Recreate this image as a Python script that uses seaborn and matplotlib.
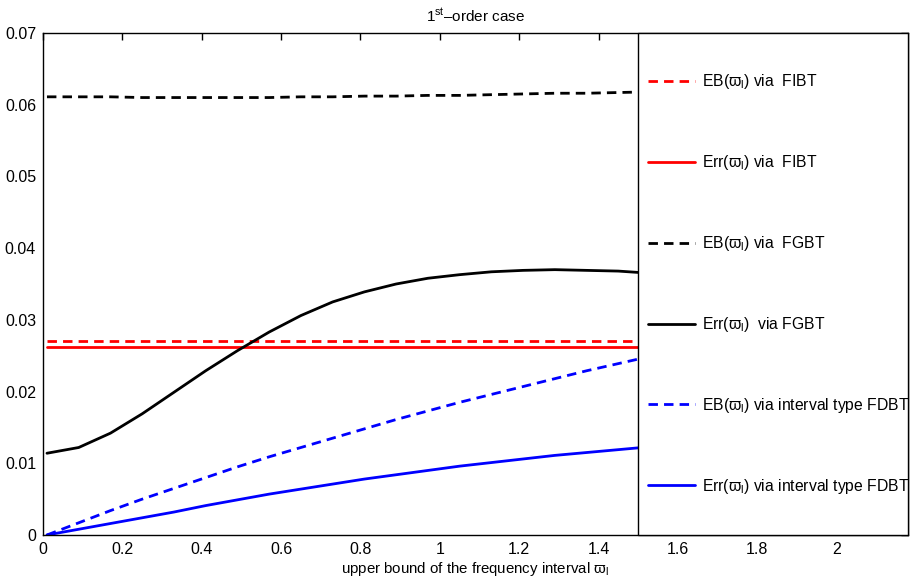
import numpy as np
import pandas as pd
import matplotlib
matplotlib.use("Agg")
import matplotlib.pyplot as plt
import seaborn as sns
from matplotlib.patches import Rectangle

sns.set_theme(style="white")
plt.rcParams["font.family"] = ["Liberation Sans", "DejaVu Sans"]
plt.rcParams["mathtext.fontset"] = "custom"
plt.rcParams["mathtext.rm"] = "Liberation Sans"
plt.rcParams["mathtext.it"] = "Liberation Sans"
plt.rcParams["text.color"] = "black"
plt.rcParams["axes.labelcolor"] = "black"

# upper bound of frequency interval
w = [0.01, 0.09, 0.17, 0.25, 0.33, 0.41, 0.49, 0.57, 0.65, 0.73,
     0.81, 0.89, 0.97, 1.05, 1.13, 1.21, 1.29, 1.37, 1.45, 1.53]

eb_fibt = [0.0271] * 20
err_fibt = [0.0262] * 20
eb_fgbt = [0.0611, 0.0611, 0.0611, 0.0610, 0.0610, 0.0610, 0.0610, 0.0610, 0.0611, 0.0611,
           0.0612, 0.0612, 0.0613, 0.0613, 0.0614, 0.0615, 0.0616, 0.0616, 0.0617, 0.0618]
err_fgbt = [0.0114, 0.0122, 0.0142, 0.0169, 0.0199, 0.0229, 0.0257, 0.0283, 0.0306, 0.0325,
            0.0339, 0.0350, 0.0358, 0.0363, 0.0367, 0.0369, 0.0370, 0.0369, 0.0368, 0.0365]
eb_fdbt = [0.0, 0.0017, 0.0034, 0.0050, 0.0065, 0.0080, 0.0095, 0.0109, 0.0122, 0.0135,
           0.0148, 0.0161, 0.0173, 0.0185, 0.0196, 0.0207, 0.0218, 0.0229, 0.0239, 0.0249]
err_fdbt = [0.0, 0.0008, 0.0016, 0.0024, 0.0032, 0.0041, 0.0049, 0.0057, 0.0064, 0.0071,
            0.0078, 0.0084, 0.0090, 0.0096, 0.0101, 0.0106, 0.0111, 0.0115, 0.0119, 0.0123]

V = r"$\varpi_\mathrm{l}$"
series = [
    (eb_fibt, "EB(" + V + ") via  FIBT", "red", True),
    (err_fibt, "Err(" + V + ") via  FIBT", "red", False),
    (eb_fgbt, "EB(" + V + ") via  FGBT", "black", True),
    (err_fgbt, "Err(" + V + ")  via FGBT", "black", False),
    (eb_fdbt, "EB(" + V + ") via interval type FDBT", "blue", True),
    (err_fdbt, "Err(" + V + ") via interval type FDBT", "blue", False),
]

fig = plt.figure(figsize=(9.11, 5.80), dpi=100)
ax = fig.add_axes([0.0472, 0.0776, 0.9495, 0.8655])

for vals, lab, col, dashed in series:
    df = pd.DataFrame({"w": w, "v": vals})
    sns.lineplot(data=df, x="w", y="v", ax=ax, color=col, lw=2.0, label=lab)
    if dashed:
        ax.lines[-1].set_dashes((3.4, 2.2))

ax.set_xlim(0, 2.18)
ax.set_ylim(0, 0.07)
ax.set_xticks([0, 0.2, 0.4, 0.6, 0.8, 1, 1.2, 1.4, 1.6, 1.8, 2])
ax.set_xticklabels(["0", "0.2", "0.4", "0.6", "0.8", "1", "1.2", "1.4", "1.6", "1.8", "2"])
ax.set_yticks(np.arange(0, 0.071, 0.01))
ax.set_yticklabels(["0", "0.01", "0.02", "0.03", "0.04", "0.05", "0.06", "0.07"])
ax.tick_params(direction="in", length=5, width=1, top=True, right=True,
               labelsize=11.5, colors="black", pad=5)
for s in ax.spines.values():
    s.set_color("black")
    s.set_linewidth(1)

ax.set_xlabel("upper bound of the frequency interval " + V, fontsize=10.8, labelpad=2)
ax.set_ylabel("")
ax.set_title(r"1$^{\mathrm{st}}$–order case", fontsize=11, pad=8, color="black")

# legend box covering right part of the axes
x0 = 1.5 / 2.18
ax.add_patch(Rectangle((x0, 0), 1 - x0, 1, transform=ax.transAxes, facecolor="white",
                       edgecolor="black", lw=1, zorder=5, clip_on=False))
leg = ax.legend(loc="center left", bbox_to_anchor=(x0, 0.5), frameon=False,
                fontsize=11.3, labelspacing=3.95, handlelength=3.0, handletextpad=0.45,
                borderaxespad=0, borderpad=0.6, labelcolor="black")
leg.set_zorder(6)

fig.savefig("out.png", dpi=100)
